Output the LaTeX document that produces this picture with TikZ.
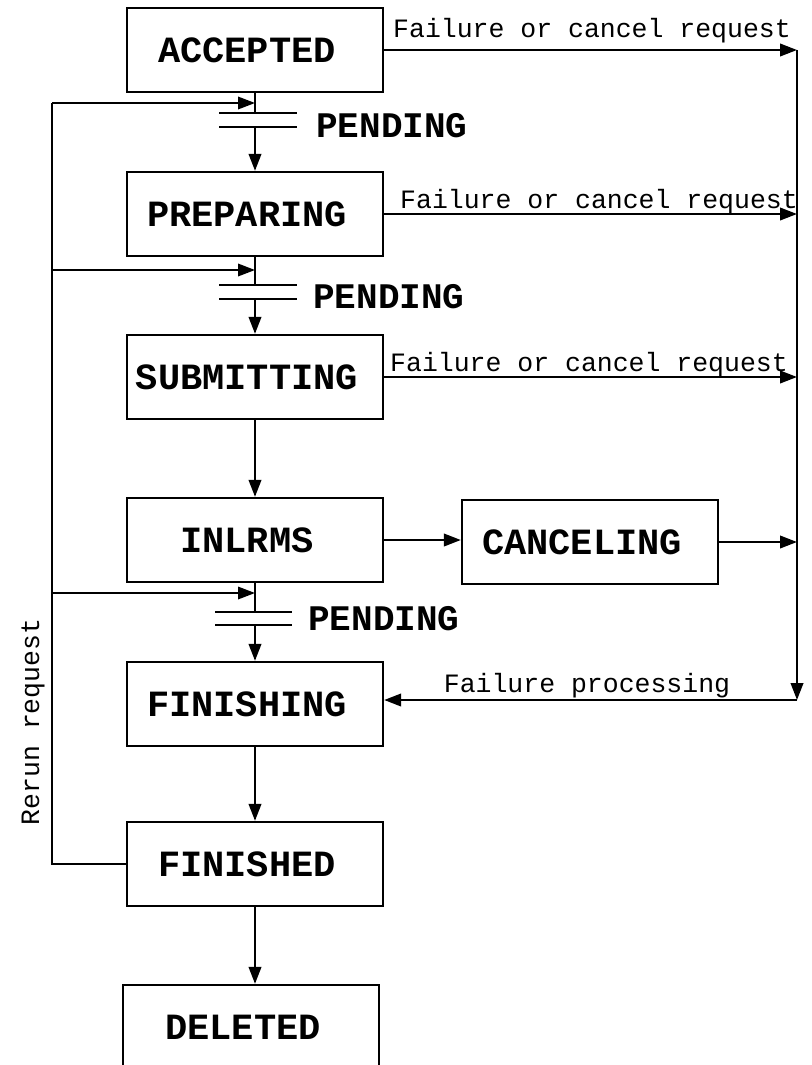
\documentclass[tikz,border=0pt]{standalone}
\usepackage{fontspec}
\setmainfont{Liberation Mono}
\usetikzlibrary{arrows.meta}
\begin{document}
\begin{tikzpicture}[x=1pt,y=-1pt,
  state/.style={draw, line width=2.3pt, minimum width=256pt, minimum height=84pt,
    inner sep=0pt, font=\fontsize{37}{40}\selectfont\bfseries,
    execute at end node={\hspace{16pt}}},
  lbl/.style={inner sep=0pt, font=\fontsize{26.5}{28}\selectfont},
  pend/.style={inner sep=0pt, anchor=west, font=\fontsize{36}{38}\selectfont\bfseries},
  flow/.style={line width=2.3pt, -{Triangle[length=17pt,width=12.5pt]}},
  loopline/.style={line width=1.8pt},
  looparrow/.style={line width=1.8pt, -{Triangle[length=17pt,width=12.5pt]}},
  bar/.style={line width=2.3pt}]
\useasboundingbox (0,0) rectangle (811,1065);

% states
\node[state] (acc)  at (255,50)  {ACCEPTED};
\node[state] (prep) at (255,214) {PREPARING};
\node[state] (sub)  at (255,377) {SUBMITTING};
\node[state] (inl)  at (255,540) {INLRMS};
\node[state] (can)  at (590,542) {CANCELING};
\node[state] (fing) at (255,704) {FINISHING};
\node[state] (fin)  at (255,864) {FINISHED};
\node[state] (del)  at (251,1027) {DELETED};

% pending gates between states
\coordinate (p1t) at (255,113); \coordinate (p1b) at (255,127);
\coordinate (p2t) at (255,285); \coordinate (p2b) at (255,299);
\coordinate (p3t) at (255,612); \coordinate (p3b) at (255,625);

\draw[bar] (acc.south) -- (p1t);
\draw[bar] ([xshift=-36pt]p1t) -- ([xshift=42pt]p1t);
\draw[bar] ([xshift=-36pt]p1b) -- ([xshift=42pt]p1b);
\draw[flow] (p1b) -- (prep.north);
\node[pend] (pend1) at (316,126) {PENDING};

\draw[bar] (prep.south) -- (p2t);
\draw[bar] ([xshift=-36pt]p2t) -- ([xshift=42pt]p2t);
\draw[bar] ([xshift=-36pt]p2b) -- ([xshift=42pt]p2b);
\draw[flow] (p2b) -- (sub.north);
\node[pend] (pend2) at (313,297) {PENDING};

\draw[flow] (sub.south) -- (inl.north);

\draw[bar] (inl.south) -- (p3t);
\draw[bar] ([xshift=-40pt]p3t) -- ([xshift=37pt]p3t);
\draw[bar] ([xshift=-40pt]p3b) -- ([xshift=37pt]p3b);
\draw[flow] (p3b) -- (fing.north);
\node[pend] (pend3) at (308,619) {PENDING};

\draw[flow] (fing.south) -- (fin.north);
\draw[flow] (fin.south) -- (fin.south |- del.north);

% rerun loop on the left
\coordinate (r1) at (52,103);
\coordinate (r2) at (52,270);
\coordinate (r3) at (52,593);
\draw[loopline] (fin.west) -| (r1);
\draw[looparrow] (r1) -- (r1 -| acc.south);
\draw[looparrow] (r2) -- (r2 -| prep.south);
\draw[looparrow] (r3) -- (r3 -| p3t);
\node[lbl, rotate=90] (rerun) at (33,722) {Rerun request};

% failure path on the right
\coordinate (R0) at (797,50);
\coordinate (R4) at (797,700);
\draw[flow] (acc.east) -- (R0);
\draw[flow] (prep.east) -- (prep.east -| R0);
\draw[flow] (sub.east) -- (sub.east -| R0);
\draw[flow] (inl.east) -- (inl.east -| can.west);
\draw[flow] (can.east) -- (can.east -| R0);
\draw[flow] (R0) -- (R4);
\draw[flow] (R4) -- (R4 -| fing.east);

\node[lbl, anchor=west] (f1) at (393,31)  {Failure or cancel request};
\node[lbl, anchor=west] (f2) at (400,202) {Failure or cancel request};
\node[lbl, anchor=west] (f3) at (390,365) {Failure or cancel request};
\node[lbl] (fp) at (587,686) {Failure processing};
\end{tikzpicture}
\end{document}
